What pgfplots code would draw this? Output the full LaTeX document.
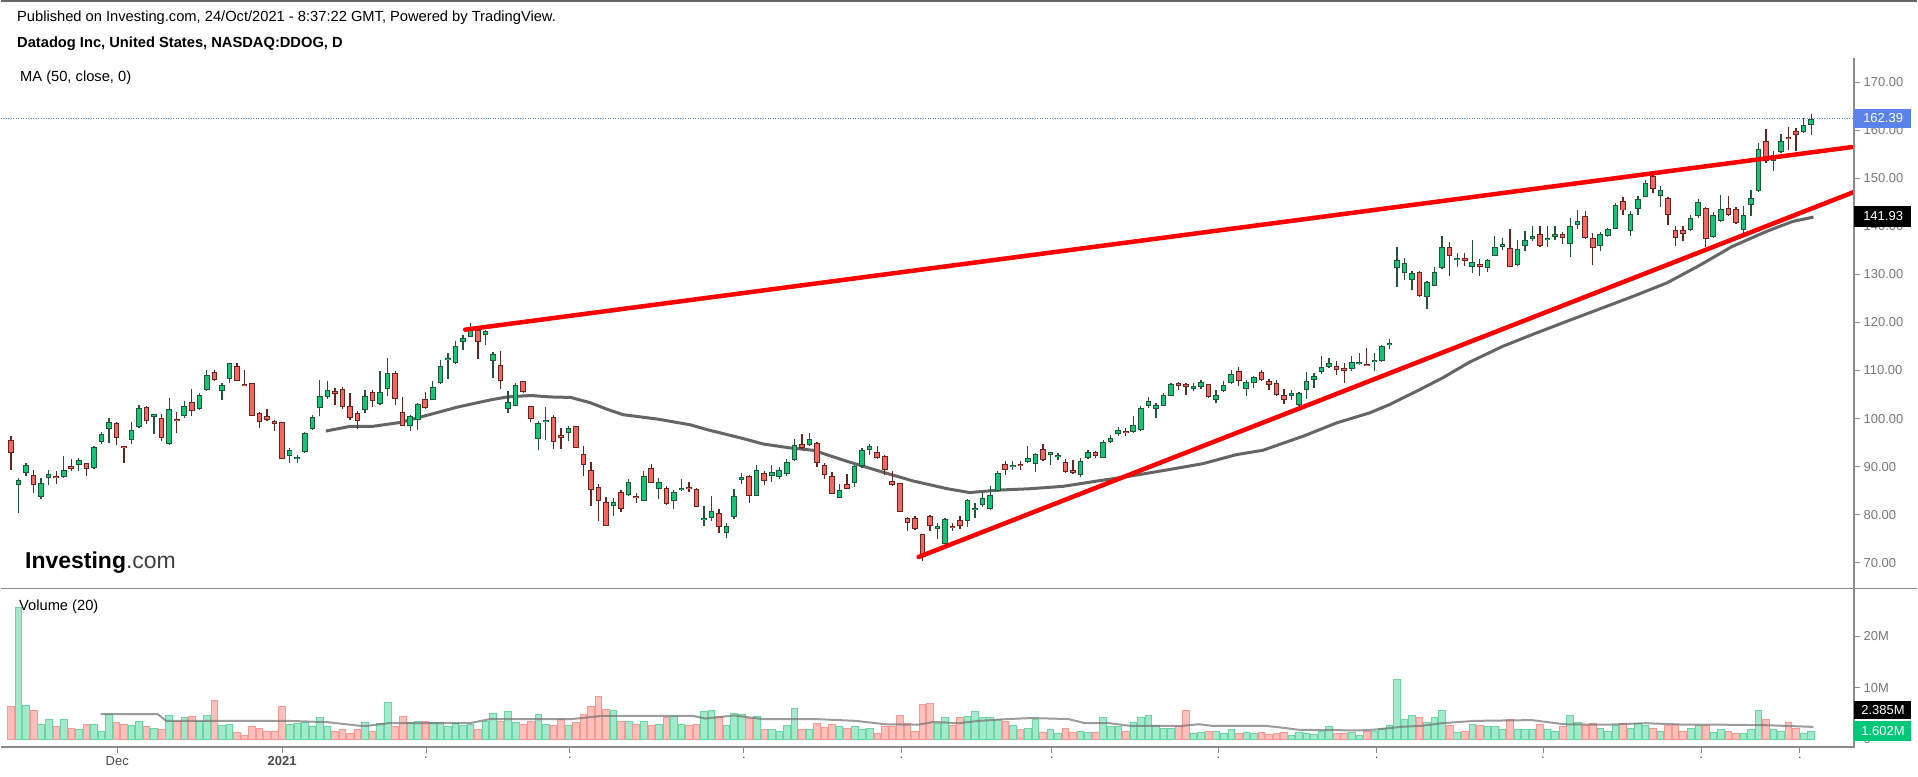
\documentclass[border=0pt]{standalone}
\usepackage{fontspec}
\setmainfont{Liberation Sans}
\usepackage{pgfplots}
\usepackage{pgfplotstable}
\pgfplotsset{compat=1.18}

\definecolor{upbody}{RGB}{22,196,120}
\definecolor{upline}{RGB}{30,86,54}
\definecolor{dnbody}{RGB}{242,104,96}
\definecolor{dnline}{RGB}{106,36,32}
\definecolor{upvol}{RGB}{163,233,203}
\definecolor{upvoledge}{RGB}{105,214,163}
\definecolor{dnvol}{RGB}{255,192,187}
\definecolor{dnvoledge}{RGB}{250,152,146}
\definecolor{ticktext}{RGB}{120,120,120}
\definecolor{axisgray}{RGB}{140,140,140}
\definecolor{lastblue}{RGB}{90,130,235}
\definecolor{volgreen}{RGB}{0,200,120}
\definecolor{magray}{RGB}{85,85,85}

% daily candles: index, open, high, low, close, volume (M)
\pgfplotstableread{
i O H L C V
0 95.6 96.3 89.4 92.9 6.3
1 86.1 87.7 80.4 87.2 25.5
2 88.7 90.8 88.0 90.4 6.6
3 88.2 89.4 84.6 86.1 5.6
4 83.7 87.7 83.2 86.6 2.9
5 87.7 89.4 86.1 88.5 3.9
6 88.0 89.0 86.4 87.7 2.4
7 87.8 92.2 87.7 89.2 3.9
8 90.1 91.6 89.0 89.5 2.1
9 90.3 91.8 89.0 91.3 1.9
10 90.8 90.8 88.0 89.5 2.9
11 89.7 94.2 89.6 94.0 2.9
12 95.1 97.2 94.8 96.8 1.6
13 97.9 100.1 94.9 99.2 4.8
14 99.0 99.2 94.6 96.0 3.2
15 94.2 94.2 90.8 93.9 2.9
16 95.5 99.2 94.8 97.6 2.6
17 98.3 102.9 98.1 102.1 3.5
18 102.4 102.7 98.8 99.4 2.4
19 100.4 100.6 96.7 100.6 2.1
20 100.1 101.0 95.3 96.0 1.9
21 94.7 104.3 94.6 101.9 4.6
22 99.9 101.3 97.0 99.4 3.5
23 100.5 103.7 100.1 102.6 4.2
24 103.4 106.2 100.5 101.5 4.4
25 101.9 105.3 101.7 104.9 3.5
26 106.0 110.2 105.7 109.1 4.6
27 109.7 110.2 107.8 108.1 7.5
28 105.7 107.3 103.8 106.9 2.7
29 108.3 111.6 107.4 111.6 2.9
30 111.0 111.6 107.8 107.9 1.4
31 107.2 110.2 106.7 106.7 0.8
32 107.3 107.3 100.5 100.5 2.4
33 101.2 101.3 98.1 99.2 2.1
34 100.5 101.9 99.4 99.8 1.6
35 99.4 99.8 97.4 98.9 1.6
36 99.2 99.2 91.5 91.5 6.3
37 92.2 93.9 90.7 93.5 2.8
38 91.6 92.5 90.8 91.8 3.1
39 93.0 97.2 92.9 97.0 3.2
40 97.8 100.8 97.7 100.3 2.4
41 102.1 108.1 100.5 104.6 4.2
42 104.5 107.9 104.0 106.0 2.4
43 105.5 106.4 102.9 105.2 1.6
44 106.2 106.5 102.0 102.4 1.9
45 102.6 105.3 99.8 100.1 1.1
46 101.2 101.5 97.8 99.4 1.9
47 101.7 106.0 101.2 104.6 3.3
48 105.5 106.0 102.4 103.6 1.6
49 103.0 110.0 102.9 105.5 3.1
50 106.2 112.6 104.6 109.5 7.2
51 109.5 109.8 102.9 104.0 2.4
52 101.3 104.5 98.4 98.4 4.4
53 98.4 100.8 97.4 100.5 3.3
54 99.8 103.3 97.6 103.1 3.5
55 104.1 105.5 101.9 102.1 3.5
56 103.9 107.9 103.8 106.5 3.3
57 107.3 112.1 107.1 111.0 3.3
58 112.1 113.7 108.3 112.4 2.4
59 111.6 116.1 111.4 115.2 3.1
60 115.9 117.3 114.3 116.8 2.6
61 117.0 119.9 117.0 118.5 2.8
62 118.4 118.9 112.4 115.9 1.9
63 117.3 118.4 115.4 118.2 3.5
64 111.9 113.9 108.5 113.4 5.0
65 111.2 114.1 106.2 107.8 3.5
66 102.0 105.7 101.2 103.4 5.3
67 102.7 107.4 102.6 106.9 3.2
68 107.8 107.8 105.3 105.5 2.8
69 102.7 102.7 99.2 99.9 3.5
70 95.8 99.4 93.4 99.0 4.8
71 99.2 102.4 95.6 99.8 2.8
72 100.3 100.8 93.6 95.1 2.6
73 96.5 98.1 93.7 95.9 3.9
74 97.0 98.4 95.3 98.0 2.6
75 98.5 98.5 93.9 93.9 3.3
76 92.7 94.2 88.0 90.3 4.8
77 89.4 90.9 81.9 85.2 6.3
78 85.7 86.3 78.6 82.8 8.3
79 82.6 83.6 77.7 77.7 5.8
80 81.9 83.5 79.8 82.6 5.5
81 84.7 85.1 80.6 81.2 3.5
82 84.0 87.4 83.9 86.7 3.5
83 83.9 84.5 82.5 83.4 2.9
84 82.9 89.0 82.8 88.0 3.5
85 89.7 90.6 86.5 86.6 2.6
86 85.4 87.6 83.2 86.9 2.8
87 85.6 85.9 82.1 82.3 4.2
88 82.8 85.2 81.1 84.7 4.4
89 85.1 87.4 84.9 85.6 2.8
90 85.6 86.9 84.7 85.4 2.6
91 85.4 85.6 81.6 81.6 2.9
92 78.8 81.8 77.7 79.0 5.3
93 79.4 83.9 78.7 80.7 5.5
94 80.4 81.2 76.2 77.4 4.4
95 76.2 78.2 75.2 77.7 2.6
96 79.6 85.4 79.0 83.9 5.0
97 87.3 88.7 86.3 87.8 4.8
98 88.1 88.3 82.5 83.8 4.0
99 83.9 90.4 83.8 89.3 4.4
100 88.7 89.0 86.1 87.0 1.9
101 88.0 90.4 86.9 88.8 1.9
102 87.9 89.9 87.4 89.3 1.6
103 88.4 91.5 88.0 90.9 2.6
104 91.3 95.8 91.1 94.5 6.0
105 94.8 96.7 93.6 93.8 1.9
106 94.5 96.9 94.3 95.8 1.9
107 94.9 95.1 89.9 90.8 3.1
108 90.3 90.8 87.5 88.2 2.3
109 88.0 88.8 84.2 84.3 2.9
110 83.4 86.3 83.4 85.1 2.4
111 86.4 88.4 85.3 85.4 2.1
112 86.6 90.4 85.8 90.1 2.4
113 90.1 93.9 89.8 93.4 1.9
114 93.4 94.8 92.5 94.2 2.1
115 93.0 94.2 91.5 91.8 1.2
116 92.2 92.5 88.2 89.2 2.4
117 87.0 89.1 85.9 86.1 2.4
118 86.6 86.6 80.5 80.5 4.6
119 79.3 79.6 76.6 78.3 3.1
120 79.3 79.8 76.9 77.1 1.6
121 75.9 75.9 70.3 71.2 6.8
122 79.8 80.0 76.6 77.6 7.0
123 77.1 78.3 75.0 77.4 3.1
124 73.8 79.3 73.8 79.1 4.2
125 77.5 78.3 76.6 77.2 2.6
126 78.9 79.7 77.1 77.6 4.2
127 78.7 83.2 77.5 83.0 4.4
128 81.0 82.5 79.3 81.4 5.3
129 82.1 84.5 81.6 83.5 4.2
130 81.1 85.9 80.9 84.0 4.2
131 84.9 89.0 84.8 88.6 3.9
132 90.6 91.1 88.2 89.3 3.5
133 89.9 91.1 89.4 90.2 2.6
134 90.4 91.1 89.4 90.1 1.9
135 91.0 94.2 90.8 91.8 2.1
136 90.6 92.9 88.9 92.7 3.9
137 93.6 94.7 91.1 91.3 1.4
138 92.5 92.9 90.4 92.9 1.9
139 92.0 92.9 91.3 92.3 1.2
140 90.9 91.5 88.7 88.8 2.1
141 89.4 91.3 88.4 88.7 1.4
142 88.2 91.8 87.9 91.1 1.6
143 91.8 93.5 91.6 93.0 1.4
144 93.0 93.2 91.8 92.2 1.4
145 91.8 95.6 91.7 95.1 4.2
146 95.2 96.5 95.0 95.9 2.4
147 96.7 98.3 96.3 97.7 2.4
148 97.4 98.1 96.3 97.0 1.6
149 97.2 100.5 97.0 98.6 3.3
150 97.6 102.7 97.4 102.2 4.2
151 102.7 104.5 102.2 103.6 4.6
152 101.9 103.3 100.1 102.9 2.6
153 102.7 105.3 102.6 105.0 2.1
154 104.8 107.4 104.7 107.1 2.1
155 107.4 107.6 106.0 106.7 2.4
156 107.1 107.4 105.0 106.6 5.6
157 106.2 107.3 105.7 106.8 1.2
158 106.5 108.0 106.2 107.6 1.4
159 107.1 107.1 104.3 104.4 1.6
160 103.9 106.0 103.3 105.0 1.6
161 105.7 107.8 105.5 106.9 1.2
162 107.3 110.2 107.1 109.2 1.9
163 110.0 110.7 106.7 107.9 1.2
164 106.2 108.1 104.6 107.6 1.4
165 107.3 108.8 106.4 108.6 1.2
166 109.6 110.2 107.8 108.1 1.4
167 107.9 108.2 106.0 106.9 1.0
168 107.3 108.1 104.8 105.0 1.1
169 104.9 106.2 103.1 103.8 1.4
170 104.8 106.0 103.8 105.0 0.8
171 102.9 105.5 102.6 105.3 1.4
172 106.0 109.6 104.1 107.9 1.2
173 108.1 109.5 106.4 108.9 1.0
174 109.6 113.0 109.3 110.7 1.6
175 110.7 112.6 110.5 111.6 2.4
176 111.0 111.9 109.1 110.2 1.2
177 110.5 111.6 107.3 109.9 1.2
178 110.4 113.0 110.0 111.8 1.4
179 111.4 113.6 111.2 111.6 0.8
180 111.4 114.7 110.9 111.0 1.6
181 111.8 113.6 109.8 112.1 1.6
182 111.9 115.4 111.8 115.2 2.1
183 115.3 116.6 114.4 115.5 2.7
184 131.3 135.8 127.4 132.9 11.6
185 130.3 133.4 128.8 132.4 3.9
186 128.9 130.8 126.8 130.3 4.6
187 130.6 130.8 125.4 125.6 4.2
188 125.3 128.6 122.9 128.4 3.3
189 127.6 131.5 127.5 130.6 4.2
190 131.3 137.9 131.1 135.7 5.6
191 135.8 136.7 129.7 133.9 2.6
192 133.0 134.4 131.5 133.4 1.4
193 133.5 134.4 131.8 132.8 1.6
194 131.5 137.2 130.3 132.6 2.9
195 132.2 133.2 129.7 131.5 2.6
196 131.3 133.2 130.4 132.9 2.4
197 133.9 137.9 133.8 135.7 2.4
198 135.8 137.6 135.1 136.0 1.9
199 135.5 139.5 131.5 131.5 3.9
200 132.0 137.2 131.8 135.3 1.9
201 136.0 139.0 134.8 137.1 1.9
202 137.3 140.0 136.9 138.0 1.9
203 138.4 140.0 135.8 136.0 2.9
204 137.2 140.0 135.8 137.4 1.9
205 137.7 140.0 137.1 138.5 1.6
206 138.4 138.9 136.4 137.6 2.4
207 136.3 141.7 133.7 140.0 4.6
208 140.2 143.4 139.5 141.2 3.3
209 142.1 143.1 137.4 137.6 2.6
210 137.6 138.6 131.9 135.5 3.1
211 136.0 138.8 134.8 138.4 2.1
212 137.9 139.6 137.8 139.5 1.6
213 139.4 144.8 139.4 144.5 2.7
214 145.2 146.2 142.4 143.3 3.1
215 139.0 143.1 138.0 142.6 2.1
216 143.6 146.4 142.4 145.7 3.1
217 146.2 149.7 146.1 149.1 2.7
218 150.5 150.7 146.9 147.8 2.1
219 146.4 148.4 144.0 147.6 1.6
220 146.0 146.2 140.3 142.3 2.6
221 139.2 140.1 136.0 137.6 2.9
222 139.2 140.1 136.9 138.4 1.6
223 139.2 142.4 139.0 141.7 2.1
224 142.2 145.7 141.7 145.0 2.7
225 143.9 144.1 135.8 137.3 2.7
226 137.7 142.9 137.6 142.4 1.4
227 141.2 146.6 141.0 143.6 1.9
228 143.8 146.4 142.1 142.3 1.6
229 143.7 144.1 140.5 140.8 1.2
230 139.3 144.3 138.7 142.3 1.2
231 144.4 147.6 142.1 145.9 1.9
232 147.3 157.3 147.1 156.1 5.5
233 157.7 160.2 153.2 153.5 3.9
234 153.5 155.6 151.6 154.9 1.9
235 155.4 159.2 155.2 157.7 1.6
236 158.4 160.6 155.9 158.1 3.3
237 159.9 160.4 155.6 159.0 2.1
238 159.7 162.5 159.4 161.1 1.2
239 161.1 163.3 159.0 162.39 1.602
}\ohlc

\pgfplotsset{
  up/.style={x filter/.expression={\thisrow{C}>=\thisrow{O} ? x : nan}},
  dn/.style={x filter/.expression={\thisrow{C}<\thisrow{O} ? x : nan}},
  wick/.style={draw=none, mark=none, forget plot,
    error bars/.cd, y dir=plus, y explicit, error mark=none,
    error bar style={line width=1.3pt, draw=#1}},
  bodyout/.style={draw=none, mark=none, forget plot,
    error bars/.cd, y dir=plus, y explicit, error mark=none,
    error bar style={line width=5.6pt, draw=#1}},
  bodyin/.style={draw=none, mark=none, forget plot,
    error bars/.cd, y dir=plus, y explicit, error mark=none,
    error bar style={line width=3.6pt, shorten <=1pt, shorten >=1pt, draw=#1}},
}
\newcommand\tf{\fontsize{13}{15}\selectfont}
\newcommand\hf{\fontsize{14.7}{17}\selectfont}

\begin{document}
\begin{tikzpicture}[x=1pt, y=1pt]
\fill[white] (0,0) rectangle (1918,777);

% price panel
\begin{axis}[
  at={(0pt,188pt)}, anchor=south west,
  scale only axis, width=1855pt, height=531pt,
  clip bounding box=upper bound,
  xmin=-1.33, xmax=244.7, ymin=64.66, ymax=175.05,
  axis line style={draw=none},
  xtick=\empty,
  ytick pos=right, yticklabel pos=right,
  ytick={70,80,90,100,110,120,130,140,150,160,170},
  yticklabels={70.00,80.00,90.00,100.00,110.00,120.00,130.00,140.00,150.00,160.00,170.00},
  yticklabel style={font=\tf, text=ticktext, anchor=west},
  tick align=outside, major tick length=6pt,
  tick style={axisgray, line width=1pt},
]
\addplot[lastblue, line width=0.8pt, dash pattern=on 1pt off 1.5pt] coordinates {(-1.33,162.39) (244.7,162.39)};
\addplot[magray, line width=3pt, opacity=0.9] coordinates {
(41.8,97.4) (45.1,98.4) (48.1,98.4) (51.7,99.2) (54.8,100.5) (59.3,102.4) (63.7,103.9)
(65.9,104.5) (69.0,104.8) (71.6,104.5) (74.3,104.4) (76.9,103.3) (79.2,101.9) (81.3,100.8)
(85.8,99.9) (90.2,98.7) (92.4,97.7) (96.8,96.0) (99.9,94.7) (103.4,93.9) (106.5,93.4)
(111.0,91.1) (115.4,89.0) (119.8,87.0) (124.3,85.4) (127.3,84.6) (130.9,85.1) (135.3,85.4)
(139.7,85.9) (144.2,87.0) (148.5,88.0) (153.8,89.4) (158.2,90.6) (162.7,92.5) (166.2,93.4)
(171.5,96.3) (176.0,99.1) (180.4,101.2) (183.0,102.9) (187.0,106.0) (190.1,108.5)
(193.6,111.7) (198.0,115.0) (202.0,117.5) (206.5,120.2) (210.9,122.8) (215.3,125.4)
(219.8,128.2) (224.1,131.8) (228.5,135.8) (233.0,138.9) (236.5,141.0) (239.3,141.93)};
% wicks
\addplot[up, wick=upline] table[x=i, y=L, y error plus expr={\thisrow{H}-\thisrow{L}}] {\ohlc};
\addplot[dn, wick=dnline] table[x=i, y=L, y error plus expr={\thisrow{H}-\thisrow{L}}] {\ohlc};
% bodies
\addplot[up, bodyout=upline] table[x=i, y expr={min(\thisrow{O},\thisrow{C})}, y error plus expr={max(abs(\thisrow{C}-\thisrow{O}),0.45)}] {\ohlc};
\addplot[up, bodyin=upbody] table[x=i, y expr={min(\thisrow{O},\thisrow{C})}, y error plus expr={max(abs(\thisrow{C}-\thisrow{O}),0.45)}] {\ohlc};
\addplot[dn, bodyout=dnline] table[x=i, y expr={min(\thisrow{O},\thisrow{C})}, y error plus expr={max(abs(\thisrow{C}-\thisrow{O}),0.45)}] {\ohlc};
\addplot[dn, bodyin=dnbody] table[x=i, y expr={min(\thisrow{O},\thisrow{C})}, y error plus expr={max(abs(\thisrow{C}-\thisrow{O}),0.45)}] {\ohlc};
% trend lines
\addplot[red, line width=4.5pt, line cap=round] coordinates {(60.3,118.5) (244.4,156.5)};
\addplot[red, line width=4.5pt, line cap=round] coordinates {(120.5,71.2) (244.6,147.1)};
\end{axis}

% volume panel
\begin{axis}[
  at={(0pt,29pt)}, anchor=south west,
  scale only axis, width=1855pt, height=159pt,
  clip bounding box=upper bound,
  xmin=-1.33, xmax=244.7, ymin=-1.56, ymax=29.25,
  axis line style={draw=none},
  xtick pos=left, xticklabel pos=left,
  ytick pos=right, yticklabel pos=right,
  xtick={14.1,36.0,55.1,74.2,97.3,118.2,138.2,160.3,181.3,203.4,224.4,237.5},
  xticklabels={Dec,\textbf{2021},.,.,.,.,.,.,.,.,.,.},
  xticklabel style={font=\tf, text=black!70},
  ytick={0,10,20}, yticklabels={0,10M,20M},
  yticklabel style={font=\tf, text=ticktext, anchor=west},
  tick align=outside, major tick length=6pt,
  tick style={axisgray, line width=1pt},
]
\addplot[up, ybar, bar width=6.6pt, bar shift=0pt, fill=upvol, draw=upvoledge, line width=0.8pt] table[x=i, y=V] {\ohlc};
\addplot[dn, ybar, bar width=6.6pt, bar shift=0pt, fill=dnvol, draw=dnvoledge, line width=0.8pt] table[x=i, y=V] {\ohlc};
\addplot[black!55, line width=2pt, opacity=0.7] coordinates {
(11.9,4.84) (19.5,4.84) (20.6,3.56) (31.2,3.56) (36.6,3.56) (42.0,3.3) (46.3,2.6) (47.4,2.6)
(50.1,3.1) (60.9,3.1) (63.6,3.9) (74.5,3.9) (78.3,4.5) (82.0,4.5) (90.6,4.5) (92.2,4.0)
(96.0,4.6) (99.8,3.9) (106.8,3.9) (112.2,3.55) (116.0,2.9) (120.4,2.8) (122.5,3.35)
(125.8,3.1) (128.5,3.55) (132.3,3.9) (135.5,4.1) (140.4,3.9) (142.6,3.1) (145.8,3.1)
(148.5,2.6) (155.6,2.6) (157.7,2.9) (159.4,2.6) (166.4,2.6) (168.4,2.3) (171.1,1.8)
(179.2,1.7) (181.4,1.9) (184.6,2.4) (187.3,2.6) (190.0,3.1) (194.3,3.55) (201.9,3.7)
(206.2,2.9) (211.6,2.8) (217.0,3.1) (222.4,2.8) (227.8,2.8) (233.2,2.7) (239.3,2.385)};
\end{axis}

% frame lines
\draw[black!60, line width=2pt] (0,776) -- (1918,776);
\draw[axisgray, line width=1.5pt] (0,188) -- (1918,188);
\draw[axisgray, line width=1.5pt] (1855,719) -- (1855,29) -- (0,29);

% texts
\node[anchor=west, inner sep=0pt] at (16,759) {\hf Published on Investing.com, 24/Oct/2021 - 8:37:22 GMT, Powered by TradingView.};
\node[anchor=west, inner sep=0pt] at (16,733) {\hf\bfseries Datadog Inc, United States, NASDAQ:DDOG, D};
\node[anchor=west, inner sep=0pt] at (19,699) {\hf MA (50, close, 0)};
\node[anchor=west, inner sep=0pt] at (18,170) {\hf Volume (20)};
\node[anchor=west, inner sep=0pt] at (24,214) {\fontsize{23}{25}\selectfont\bfseries Investing\mdseries\color{black!75}.com};

% last value boxes
\fill[lastblue] (1855,649) rectangle (1912,668);
\node[anchor=west, inner sep=0pt, text=white] at (1864,658.5) {\tf 162.39};
\fill[black] (1855,550) rectangle (1912,571);
\node[anchor=west, inner sep=0pt, text=white] at (1864,560.5) {\tf 141.93};
\fill[black] (1855,57) rectangle (1912,75);
\node[anchor=west, inner sep=0pt, text=white] at (1862,66) {\tf 2.385M};
\fill[volgreen] (1855,35) rectangle (1912,55);
\node[anchor=west, inner sep=0pt, text=white] at (1862,45) {\tf 1.602M};
\end{tikzpicture}
\end{document}
